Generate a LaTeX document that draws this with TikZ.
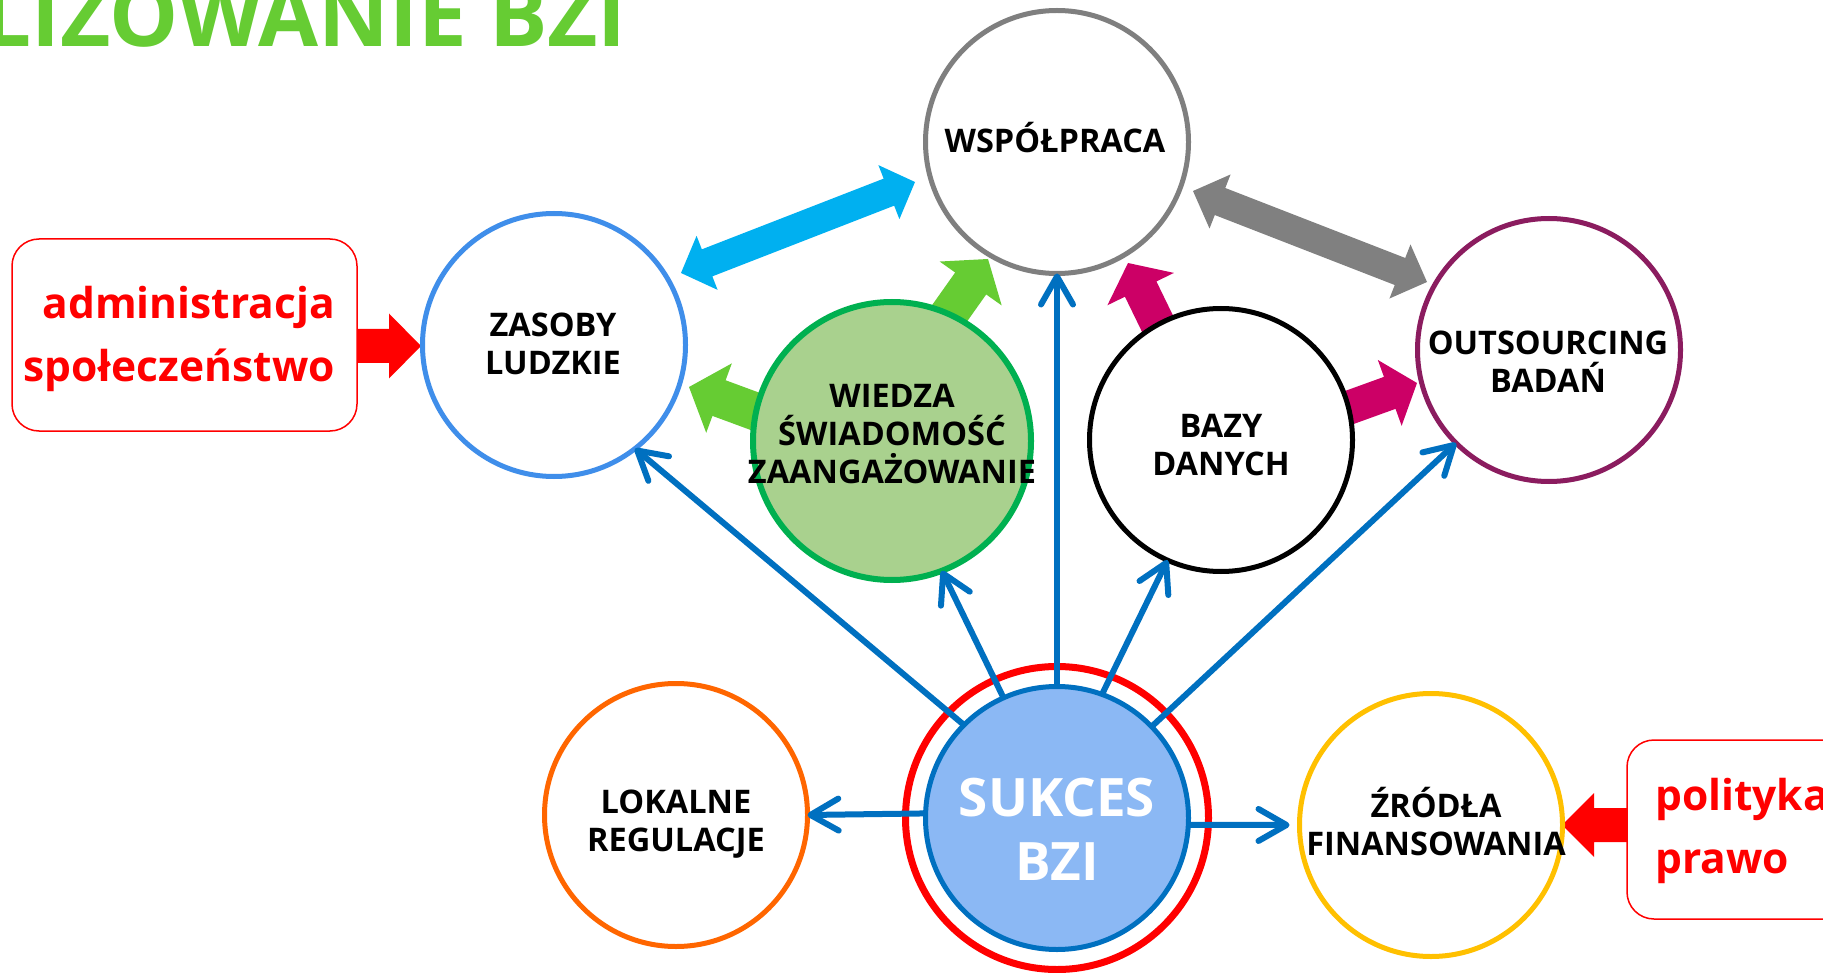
\documentclass[tikz,border=0pt]{standalone}
\usepackage{fontspec}
\setmainfont{Open Sans}
\usetikzlibrary{calc,arrows.meta}
\definecolor{cblue}{HTML}{0070C0}
\definecolor{ccyan}{HTML}{00B0F0}
\definecolor{cgrayarr}{HTML}{808080}
\definecolor{cgraycirc}{HTML}{7F7F7F}
\definecolor{cgreen}{HTML}{66CC33}
\definecolor{cmag}{HTML}{CC0066}
\definecolor{czas}{HTML}{3F8EEA}
\definecolor{cout}{HTML}{8B1C5F}
\definecolor{clok}{HTML}{FF6600}
\definecolor{czro}{HTML}{FFC000}
\definecolor{cwfill}{HTML}{A9D18E}
\definecolor{cwdraw}{HTML}{00B050}
\definecolor{csfill}{HTML}{8BB8F4}
\definecolor{cred}{HTML}{FF0000}
% single block arrow: base, tip, shaft half width, head length, head half width, colour
\newcommand{\myblockarrow}[6]{%
  \fill[#6] ($(#1)!#3!90:(#2)$) -- ($(#2)!#4!(#1)!#3!-90:(#1)$) -- ($(#2)!#4!(#1)!#5!-90:(#1)$) -- (#2)
    -- ($(#2)!#4!(#1)!#5!90:(#1)$) -- ($(#2)!#4!(#1)!#3!90:(#1)$) -- ($(#1)!#3!-90:(#2)$) -- cycle;}
% double block arrow: tip A, tip B, shaft half width, head length, head half width, colour
\newcommand{\mydblarrow}[6]{%
  \fill[#6] (#1) -- ($(#1)!#4!(#2)!#5!90:(#2)$) -- ($(#1)!#4!(#2)!#3!90:(#2)$)
    -- ($(#2)!#4!(#1)!#3!-90:(#1)$) -- ($(#2)!#4!(#1)!#5!-90:(#1)$) -- (#2)
    -- ($(#2)!#4!(#1)!#5!90:(#1)$) -- ($(#2)!#4!(#1)!#3!90:(#1)$)
    -- ($(#1)!#4!(#2)!#3!-90:(#2)$) -- ($(#1)!#4!(#2)!#5!-90:(#2)$) -- cycle;}
\begin{document}
\begin{tikzpicture}[x=1pt,y=-1pt,
  circ/.style={circle, draw, line width=5pt, minimum size=263pt, inner sep=0pt, outer sep=0pt, fill=white},
  lbl/.style={font=\bfseries\fontsize{32.5}{38}\selectfont, align=center, inner sep=0pt, text=black},
  conn/.style={draw=cblue, line width=6pt, -{Straight Barb[length=28pt,width=32pt,round]}},
  sidebox/.style={draw=cred, line width=1.5pt, rounded corners=27pt, fill=white, inner sep=0pt},
  sidetext/.style={font=\bfseries\fontsize{42.5}{63}\selectfont, text=cred, inner sep=0pt}
]
\useasboundingbox (0,0) rectangle (1823,973);
\clip (0,0) rectangle (1823,973);
\fill[white] (0,0) rectangle (1823,973);

% title
\node[anchor=base west, inner sep=0pt, font=\bfseries\fontsize{87}{100}\selectfont, text=cgreen] (title) at (-18,47) {LIZOWANIE BZI};

% side boxes
\node[sidebox, minimum width=345pt, minimum height=192pt] (lbox) at (184.5,335) {};
\node[sidebox, minimum width=273pt, minimum height=179pt] (rbox) at (1763.5,829.5) {};
\node[sidetext, anchor=base east, align=right] (ltext) at (335,382) {administracja\\społeczeństwo};
\node[sidetext, anchor=base west, align=left] (rtext) at (1655,873) {polityka\\prawo};

% block arrows
\coordinate (cyA) at (681,273); \coordinate (cyB) at (915,182);
\mydblarrow{cyA}{cyB}{14.5pt}{28pt}{29pt}{ccyan}
\coordinate (grA) at (1193,191); \coordinate (grB) at (1427,282);
\mydblarrow{grA}{grB}{14.5pt}{29pt}{29pt}{cgrayarr}
\coordinate (g1b) at (773,418); \coordinate (g1t) at (689,387);
\myblockarrow{g1b}{g1t}{19pt}{32pt}{37pt}{cgreen}
\coordinate (g2b) at (942,324); \coordinate (g2t) at (988,259);
\myblockarrow{g2b}{g2t}{19pt}{30pt}{38pt}{cgreen}
\coordinate (m1b) at (1163,335); \coordinate (m1t) at (1128,263);
\myblockarrow{m1b}{m1t}{17.5pt}{29pt}{37pt}{cmag}
\coordinate (m2b) at (1323,417); \coordinate (m2t) at (1417,383);
\myblockarrow{m2b}{m2t}{17pt}{29pt}{35pt}{cmag}
\coordinate (r1b) at (357,346); \coordinate (r1t) at (421,346);
\myblockarrow{r1b}{r1t}{17pt}{32pt}{32.5pt}{cred}
\coordinate (r2b) at (1627,825); \coordinate (r2t) at (1562,825);
\myblockarrow{r2b}{r2t}{17pt}{32pt}{32pt}{cred}

% circles
\node[circ, draw=cgraycirc] (wsp) at (1057,142) {};
\node[circ, draw=czas] (zas) at (554,345) {};
\node[circ, draw=cwdraw, fill=cwfill, line width=6pt, minimum size=278pt] (wie) at (892,441) {};
\node[circ, draw=black] (baz) at (1221,440) {};
\node[circ, draw=cout] (out) at (1549,350) {};
\node[circ, draw=clok] (lok) at (676,815) {};
\node[circ, draw=czro] (zro) at (1431,825) {};
\node[circ, draw=cred, line width=7pt, minimum size=303pt] (ring) at (1057,818) {};
\node[circ, draw=cblue, fill=csfill] (suk) at (1057,818) {};

% connectors
\coordinate (zrotip) at ([xshift=-10pt]zro.west);
\draw[conn] (suk.135) -- (zas.-52);
\draw[conn] (suk.114) -- (wie.-69);
\draw[conn] (suk.90) -- (wsp.-90);
\draw[conn] (suk.70) -- (baz.-114);
\draw[conn] (suk.44) -- (out.-135);
\draw[conn] (suk.178.7) -- (lok.0);
\draw[conn] (suk.-3) -- (zrotip);

% labels (base = baseline of the last line)
\node[lbl, anchor=base] (wspl) at (1055,153) {WSPÓŁPRACA};
\node[lbl, anchor=base] (zasl) at (553,374) {ZASOBY\\LUDZKIE};
\node[lbl, anchor=base] (wiel) at (892,483) {WIEDZA\\ŚWIADOMOŚĆ\\ZAANGAŻOWANIE};
\node[lbl, anchor=base] (bazl) at (1221,475) {BAZY\\DANYCH};
\node[lbl, anchor=base] (outl) at (1548,392) {OUTSOURCING\\BADAŃ};
\node[lbl, anchor=base] (lokl) at (676,851) {LOKALNE\\REGULACJE};
\node[lbl, anchor=base] (zrol) at (1436,855) {ŹRÓDŁA\\FINANSOWANIA};
\node[lbl, anchor=base, text=white, font=\bfseries\fontsize{53}{64}\selectfont] (sukl) at (1057,880) {SUKCES\\BZI};
\end{tikzpicture}
\end{document}
